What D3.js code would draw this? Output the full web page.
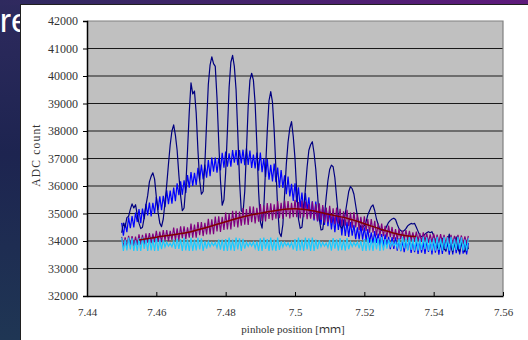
<!DOCTYPE html>
<html>
<head>
<meta charset="utf-8">
<script src="https://cdn.jsdelivr.net/npm/d3@7"></script>
<style>
  html, body { margin: 0; padding: 0; background: #fff; }
  svg { display: block; }
</style>
</head>
<body>
<svg id="chart" width="528" height="340"></svg>
<script>
// Pinhole scan: one reading every 0.5 um from 7.450 mm to 7.550 mm
const scanStart = 7.45;
const scanStep = 0.0005;

// ADC counts per scan step
const fringeCounts = [
  34300,34650,34500,34850,34900,35150,35350,35200,35320,34950,
  34650,34450,34500,34850,35300,35650,36150,36350,36480,36250,
  35600,35050,34650,34520,34800,35400,36050,36800,37500,38000,
  38220,37850,37300,36400,35650,35100,35200,36000,37300,38700,
  39750,39350,39450,38650,37300,36200,35700,35800,36800,38300,
  39700,40400,40700,40450,40350,39200,37600,36200,35300,35500,
  36500,38000,39600,40500,40750,40350,39500,37900,36200,35100,
  35020,35800,37300,38900,39850,40100,39850,39000,37500,35800,
  34700,34470,35200,36600,38000,39100,39430,39050,38000,36600,
  35200,34300,34160,34600,35700,36800,37600,38100,38340,37800,
  37000,35800,34800,34460,34500,35100,35900,36700,37300,37500,
  37610,37200,36600,35700,34800,34400,34420,34900,35600,36200,
  36600,36760,36700,36300,35600,34900,34550,34460,34600,35000,
  35400,35800,35980,35900,35700,35300,34900,34600,34520,34500,
  34550,34700,34950,35100,35250,35310,35100,34800,34600,34420,
  34380,34400,34420,34550,34680,34750,34800,34830,34780,34600,
  34450,34380,34340,34380,34450,34550,34600,34640,34620,34640,
  34500,34350,34200,34160,34180,34250,34300,34340,34300,34340,
  34200,34000,33800,33700,33900,34100,33700,33650,34000,34250,
  33800,33600,33900,34150,33700,33600,34000,33700,33600,33950,33700
];

const envelopeCounts = [
  34660,34190,34660,34320,34860,34470,34910,34490,35030,34690,
  35160,34650,35180,34790,35350,34930,35400,34890,35390,35000,
  35600,35130,35620,35120,35640,35230,35840,35340,35830,35360,
  35940,35450,36100,35670,36170,35680,36210,35750,36400,35940,
  36510,36000,36480,36030,36660,36210,36780,36240,36780,36300,
  36940,36360,37030,36520,37030,36480,37020,36570,37210,36670,
  37250,36700,37190,36700,37310,36850,37310,36760,37310,36820,
  37320,36760,37370,36770,37290,36660,37140,36640,37220,36560,
  37220,36500,37010,36330,36980,36230,36770,36170,36820,36140,
  36670,35940,36580,35930,36390,35700,36340,35620,36080,35460,
  36100,35410,35950,35220,35760,35100,35740,35120,35590,34860,
  35440,34750,35430,34710,35240,34590,35230,34580,35190,34540,
  35090,34420,34930,34320,34970,34400,34880,34200,34780,34180,
  34700,34150,34690,34190,34590,34070,34500,34060,34570,34050,
  34500,34030,34430,33940,34310,33920,34360,33930,34270,33810,
  34250,33770,34240,33800,34150,33700,34140,33710,34130,33650,
  34100,33630,34010,33590,34050,33680,34070,33570,34010,33590,
  34000,33530,34050,33580,33950,33530,34020,33600,34040,33510,
  34040,33580,34010,33500,33990,33530,34040,33610,33960,33500,
  34000,33510,34030,33560,33950,33510,34030,33540,33980,33510,33930
];

const driftCounts = [
  34150,33780,34130,33780,34190,33840,34180,33810,34160,33850,
  34240,33870,34220,33870,34280,33940,34290,33920,34270,33960,
  34370,33970,34340,33960,34400,34020,34400,34000,34370,34040,
  34490,34030,34460,34030,34530,34100,34530,34070,34500,34120,
  34630,34120,34600,34120,34690,34210,34690,34180,34660,34240,
  34810,34240,34790,34250,34890,34350,34900,34330,34880,34400,
  35030,34420,35000,34420,35100,34520,35100,34490,35070,34560,
  35200,34590,35160,34580,35260,34680,35250,34640,35210,34700,
  35340,34720,35300,34710,35380,34800,35370,34760,35330,34810,
  35450,34830,35390,34800,35470,34880,35450,34820,35390,34870,
  35500,34870,35420,34820,35470,34870,35430,34790,35350,34810,
  35430,34790,35340,34730,35370,34770,35310,34670,35220,34680,
  35280,34660,35190,34610,35220,34640,35170,34550,35080,34560,
  35130,34540,35030,34480,35050,34490,34980,34400,34880,34380,
  34900,34370,34800,34300,34800,34300,34730,34200,34630,34190,
  34630,34180,34550,34130,34560,34140,34510,34060,34430,34050,
  34440,34060,34380,34030,34400,34040,34370,34010,34310,33990,
  34340,34000,34290,33970,34310,33990,34280,33940,34240,33950,
  34270,33940,34230,33920,34250,33940,34220,33900,34180,33900,
  34220,33900,34190,33880,34220,33910,34200,33880,34170,33900,34190
];

const baselineCounts = [
  34120,33640,34050,33660,34120,33690,34100,33640,34020,33640,
  34100,33640,34120,33710,34070,33640,34120,33660,34050,33640,
  34120,33640,34050,33700,34040,33780,33960,33810,33920,33790,
  34000,33710,34090,33710,34070,33640,34120,33660,34050,33640,
  34120,33640,34050,33660,34120,33690,34100,33640,34000,33720,
  33990,33790,33950,33830,33950,33750,34050,33690,34050,33640,
  34070,33640,34120,33660,34050,33640,34120,33690,34100,33640,
  34080,33720,33960,33800,33950,33820,33970,33740,33990,33640,
  34100,33640,34120,33710,34070,33640,34120,33660,34050,33640,
  34120,33680,33990,33780,33960,33820,33940,33780,33960,33690,
  34070,33640,34120,33660,34050,33640,34120,33690,34100,33640,
  34120,33640,34050,33700,34030,33790,33950,33810,33930,33760,
  34030,33650,34110,33720,34060,33650,34110,33670,34040,33650,
  34110,33700,33970,33800,33950,33820,33970,33730,34000,33640,
  34070,33640,34120,33660,34050,33640,34120,33690,34100,33640,
  34140,33660,34070,33720,34050,33810,33970,33830,33950,33760,
  34070,33650,34150,33730,34100,33650,34150,33680,34080,33650,
  34150,33650,34080,33680,34150,33700,34130,33650,34050,33650,
  34100,33650,34150,33680,34080,33650,34150,33700,34130,33650,
  34150,33650,34080,33680,34150,33700,34130,33650,34050,33650,34100
];

// Moving-average trend of the drift series
const trendPositions = [7.455,7.460,7.465,7.470,7.475,7.480,7.485,7.490,7.495,
                        7.500,7.505,7.510,7.515,7.520,7.525,7.530,7.535];
const trendCounts = [34040,34140,34230,34340,34510,34700,34880,35010,35120,
                     35170,35100,34960,34830,34630,34420,34240,34160];

const xTickValues = [7.44, 7.46, 7.48, 7.5, 7.52, 7.54, 7.56];
const xTickLabels = ["7.44", "7.46", "7.48", "7.5", "7.52", "7.54", "7.56"];
const yTickValues = [32000,33000,34000,35000,36000,37000,38000,39000,40000,41000,42000];
const yTickLabels = ["32000","33000","34000","35000","36000","37000","38000","39000","40000","41000","42000"];

const xTitle = "pinhole position [ｍｍ]";
const yTitle = "ADC count";

const positions = fringeCounts.map((_, i) => +(scanStart + i * scanStep).toFixed(4));

const svg = d3.select("#chart");
const W = 528, H = 340;
const plot = { left: 87, right: 503, top: 21, bottom: 296 };

// ---- slide backdrop ----
const defs = svg.append("defs");
const side = defs.append("linearGradient").attr("id", "side").attr("x1", 0).attr("y1", 0).attr("x2", 0).attr("y2", 1);
side.append("stop").attr("offset", "0%").attr("stop-color", "#2e2a5e");
side.append("stop").attr("offset", "45%").attr("stop-color", "#1d2450");
side.append("stop").attr("offset", "100%").attr("stop-color", "#1f3654");
const topBand = defs.append("linearGradient").attr("id", "topband").attr("x1", 0).attr("y1", 0).attr("x2", 1).attr("y2", 0);
topBand.append("stop").attr("offset", "0%").attr("stop-color", "#2e2a5e");
topBand.append("stop").attr("offset", "100%").attr("stop-color", "#5e1a7c");

svg.append("rect").attr("width", W).attr("height", H).attr("fill", "url(#side)");
svg.append("rect").attr("width", W).attr("height", 5).attr("fill", "url(#topband)");
svg.append("text")
  .attr("x", 30).attr("y", 32)
  .attr("text-anchor", "end")
  .attr("font-family", "Liberation Sans, Arial, sans-serif")
  .attr("font-size", 34)
  .attr("fill", "#ffffff")
  .text("re");

// white chart panel
svg.append("rect")
  .attr("x", 20.5).attr("y", 4.5).attr("width", W - 20).attr("height", H - 4)
  .attr("fill", "#ffffff").attr("stroke", "#202020").attr("stroke-width", 1);

// ---- scales ----
const x = d3.scaleLinear().domain([7.44, 7.56]).range([plot.left, plot.right]);
const y = d3.scaleLinear().domain([32000, 42000]).range([plot.bottom, plot.top]);

// plot area
svg.append("rect")
  .attr("x", plot.left).attr("y", plot.top)
  .attr("width", plot.right - plot.left).attr("height", plot.bottom - plot.top)
  .attr("fill", "#c0c0c0");

// horizontal gridlines
svg.append("g")
  .selectAll("line")
  .data(yTickValues.filter(v => v > 32000 && v < 42000))
  .join("line")
  .attr("x1", plot.left).attr("x2", plot.right)
  .attr("y1", d => y(d)).attr("y2", d => y(d))
  .attr("stroke", "#1a1a1a").attr("stroke-width", 1);

// frame top and right
svg.append("path")
  .attr("d", `M${plot.left},${y(42000)}H${plot.right}V${plot.bottom}`)
  .attr("fill", "none").attr("stroke", "#808080").attr("stroke-width", 1.2);

// ---- series ----
const clip = defs.append("clipPath").attr("id", "plotclip");
clip.append("rect").attr("x", plot.left).attr("y", plot.top)
  .attr("width", plot.right - plot.left).attr("height", plot.bottom - plot.top);

const g = svg.append("g").attr("clip-path", "url(#plotclip)");
const lineOf = vals => d3.line().x((d, i) => x(positions[i])).y(d => y(d))(vals);

g.append("path").attr("d", lineOf(envelopeCounts))
  .attr("fill", "none").attr("stroke", "#0000ff").attr("stroke-width", 1.2);
g.append("path").attr("d", lineOf(fringeCounts))
  .attr("fill", "none").attr("stroke", "#000080").attr("stroke-width", 1.2)
  .attr("stroke-linejoin", "round");
g.append("path").attr("d", lineOf(driftCounts))
  .attr("fill", "none").attr("stroke", "#800080").attr("stroke-width", 1.2);
g.append("path").attr("d", lineOf(baselineCounts))
  .attr("fill", "none").attr("stroke", "#1ccaff").attr("stroke-width", 1.2);
g.append("path")
  .attr("d", d3.line().curve(d3.curveMonotoneX)
    .x((d, i) => x(trendPositions[i])).y(d => y(d))(trendCounts))
  .attr("fill", "none").attr("stroke", "#800000").attr("stroke-width", 1.5);

// ---- axes ----
const tickFont = "Liberation Serif, 'Times New Roman', serif";

const yAxis = svg.append("g")
  .attr("transform", `translate(${plot.left},0)`)
  .call(d3.axisLeft(y).tickValues(yTickValues)
    .tickFormat((d, i) => yTickLabels[i]).tickSize(4).tickPadding(5));
yAxis.select(".domain").attr("stroke", "#000").attr("stroke-width", 1.5);
yAxis.selectAll(".tick line").attr("stroke", "#000");
yAxis.selectAll(".tick text")
  .attr("font-family", tickFont).attr("font-size", 12).attr("fill", "#333");

const xAxis = svg.append("g")
  .attr("transform", `translate(0,${plot.bottom})`)
  .call(d3.axisBottom(x).tickValues(xTickValues)
    .tickFormat((d, i) => xTickLabels[i]).tickSizeInner(-4).tickSizeOuter(0).tickPadding(12));
xAxis.select(".domain").attr("stroke", "#000").attr("stroke-width", 1.5);
xAxis.selectAll(".tick line").attr("stroke", "#000");
xAxis.selectAll(".tick text")
  .attr("font-family", tickFont).attr("font-size", 11).attr("fill", "#333");

svg.append("text")
  .attr("x", 293).attr("y", 333)
  .attr("text-anchor", "middle")
  .attr("font-family", tickFont + ", 'Noto Sans CJK JP'")
  .attr("font-size", 11).attr("fill", "#333")
  .text(xTitle);

svg.append("text")
  .attr("transform", "translate(40,155) rotate(-90)")
  .attr("text-anchor", "middle")
  .attr("font-family", tickFont)
  .attr("font-size", 11.5).attr("letter-spacing", 1.2).attr("fill", "#333")
  .text(yTitle);
</script>
</body>
</html>
